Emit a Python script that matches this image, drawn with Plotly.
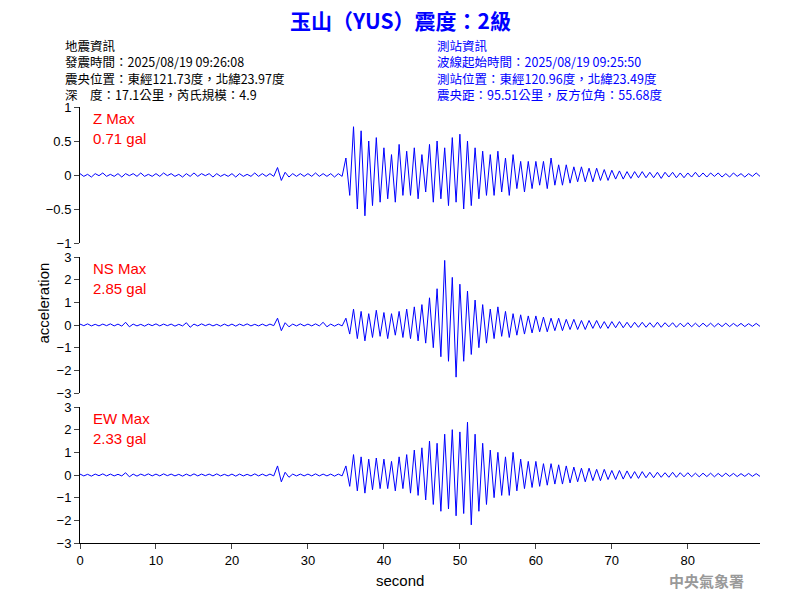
import plotly.graph_objects as go

# time axis: 0.5 s steps
t = [i * 0.5 for i in range(180)]

z_acc = [
    0.02, -0.02, 0.01, -0.03, 0.02, -0.01, 0.03, -0.02, 0.01, -0.02, 0.02, -0.03, 0.02, -0.01, 0.02, -0.02, 0.03, -0.02, 0.01, -0.02,
    0.02, -0.02, 0.03, -0.01, 0.02, -0.02, 0.01, -0.03, 0.02, -0.02, 0.03, -0.02, 0.02, -0.01, 0.02, -0.03, 0.02, -0.02, 0.01, -0.02,
    0.02, -0.03, 0.02, -0.02, 0.01, -0.02, 0.03, -0.02, 0.02, -0.02, 0.02, -0.02, 0.11, -0.08, 0.04, -0.03, 0.02, -0.02, 0.02, -0.02,
    0.02, -0.02, 0.03, -0.02, 0.02, -0.02, 0.02, -0.03, 0.02, -0.02, 0.25, -0.3, 0.71, -0.5, 0.65, -0.6, 0.5, -0.45, 0.55, -0.4,
    0.4, -0.35, 0.3, -0.4, 0.45, -0.3, 0.35, -0.3, 0.4, -0.35, 0.3, -0.25, 0.45, -0.4, 0.5, -0.35, 0.4, -0.45, 0.55, -0.4,
    0.6, -0.5, 0.5, -0.45, 0.4, -0.35, 0.35, -0.3, 0.3, -0.3, 0.35, -0.25, 0.25, -0.3, 0.3, -0.2, 0.2, -0.25, 0.2, -0.2,
    0.2, -0.15, 0.2, -0.2, 0.25, -0.15, 0.15, -0.15, 0.15, -0.12, 0.12, -0.1, 0.12, -0.1, 0.1, -0.1, 0.1, -0.08, 0.08, -0.08,
    0.07, -0.06, 0.06, -0.06, 0.05, -0.05, 0.05, -0.04, 0.05, -0.04, 0.04, -0.04, 0.04, -0.05, 0.04, -0.03, 0.04, -0.04, 0.03, -0.04,
    0.03, -0.03, 0.04, -0.03, 0.03, -0.03, 0.03, -0.02, 0.03, -0.03, 0.02, -0.03, 0.03, -0.02, 0.02, -0.03, 0.02, -0.02, 0.03, -0.02,
]

ns_acc = [
    0.04, -0.03, 0.05, -0.04, 0.03, -0.04, 0.04, -0.03, 0.05, -0.04, 0.04, -0.05, 0.12, -0.08, 0.04, -0.04, 0.03, -0.05, 0.04, -0.03,
    0.05, -0.04, 0.04, -0.03, 0.04, -0.05, 0.03, -0.04, 0.1, -0.1, 0.04, -0.04, 0.05, -0.03, 0.04, -0.04, 0.03, -0.05, 0.04, -0.04,
    0.04, -0.05, 0.04, -0.03, 0.05, -0.04, 0.03, -0.04, 0.04, -0.04, 0.04, -0.03, 0.3, -0.25, 0.1, -0.08, 0.04, -0.04, 0.05, -0.04,
    0.04, -0.04, 0.05, -0.04, 0.12, -0.08, 0.04, -0.05, 0.04, -0.04, 0.3, -0.4, 0.7, -0.6, 0.6, -0.7, 0.5, -0.55, 0.65, -0.5,
    0.55, -0.6, 0.5, -0.45, 0.6, -0.55, 0.7, -0.6, 0.8, -0.7, 0.9, -0.8, 1.2, -1.0, 1.6, -1.4, 2.85, -1.6, 2.1, -2.3,
    1.8, -1.6, 1.5, -1.3, 1.1, -1.0, 0.9, -0.8, 0.7, -0.6, 0.8, -0.5, 0.6, -0.55, 0.5, -0.45, 0.45, -0.4, 0.4, -0.35,
    0.4, -0.3, 0.35, -0.3, 0.3, -0.25, 0.3, -0.25, 0.25, -0.2, 0.25, -0.2, 0.2, -0.2, 0.2, -0.15, 0.2, -0.15, 0.15, -0.15,
    0.15, -0.12, 0.15, -0.12, 0.12, -0.12, 0.12, -0.1, 0.12, -0.1, 0.1, -0.1, 0.12, -0.1, 0.1, -0.08, 0.1, -0.1, 0.08, -0.08,
    0.1, -0.08, 0.08, -0.08, 0.08, -0.07, 0.08, -0.08, 0.07, -0.07, 0.08, -0.07, 0.07, -0.06, 0.07, -0.07, 0.06, -0.06, 0.07, -0.06,
]

ew_acc = [
    0.04, -0.04, 0.03, -0.05, 0.04, -0.03, 0.05, -0.04, 0.04, -0.04, 0.03, -0.04, 0.1, -0.08, 0.04, -0.05, 0.04, -0.03, 0.05, -0.04,
    0.04, -0.04, 0.05, -0.03, 0.04, -0.04, 0.03, -0.05, 0.04, -0.04, 0.05, -0.04, 0.04, -0.03, 0.04, -0.04, 0.05, -0.04, 0.03, -0.04,
    0.04, -0.05, 0.04, -0.04, 0.03, -0.04, 0.05, -0.04, 0.04, -0.04, 0.04, -0.04, 0.4, -0.3, 0.12, -0.1, 0.04, -0.04, 0.04, -0.04,
    0.04, -0.04, 0.05, -0.04, 0.04, -0.04, 0.04, -0.05, 0.04, -0.04, 0.4, -0.5, 0.9, -0.7, 0.8, -0.8, 0.7, -0.65, 0.75, -0.6,
    0.7, -0.6, 0.6, -0.7, 0.8, -0.6, 0.9, -0.8, 1.1, -0.9, 1.2, -1.1, 1.5, -1.3, 1.4, -1.6, 1.8, -1.5, 2.0, -1.8,
    1.9, -1.7, 2.33, -2.2, 1.8, -1.6, 1.4, -1.3, 1.1, -1.0, 1.0, -0.9, 0.8, -0.9, 1.0, -0.7, 0.7, -0.6, 0.6, -0.55,
    0.6, -0.5, 0.5, -0.45, 0.5, -0.4, 0.45, -0.4, 0.4, -0.35, 0.35, -0.3, 0.3, -0.3, 0.3, -0.25, 0.25, -0.25, 0.25, -0.2,
    0.2, -0.2, 0.2, -0.18, 0.18, -0.15, 0.15, -0.15, 0.15, -0.12, 0.12, -0.12, 0.12, -0.1, 0.1, -0.1, 0.12, -0.1, 0.1, -0.08,
    0.1, -0.08, 0.08, -0.08, 0.08, -0.07, 0.08, -0.08, 0.07, -0.07, 0.08, -0.06, 0.07, -0.07, 0.06, -0.06, 0.07, -0.06, 0.06, -0.06,
]

channels = [
    ("Z", z_acc, "0.71 gal", [-1, 1], [-1, -0.5, 0, 0.5, 1]),
    ("NS", ns_acc, "2.85 gal", [-3, 3], [-3, -2, -1, 0, 1, 2, 3]),
    ("EW", ew_acc, "2.33 gal", [-3, 3], [-3, -2, -1, 0, 1, 2, 3]),
]

# the page adds an 8px body margin, so place things in screen pixels minus that
OFF = 8


def px(x):
    return (x - OFF) / 800


def py(y):
    return 1 - (y - OFF) / 600


panel_px = [(107, 243), (257, 393), (407, 543)]

FONT = "Noto Sans CJK TC, Arial"
SANS = "Liberation Sans, Arial"
TICKFONT = {"size": 13, "color": "black", "family": SANS}
fig = go.Figure()
layout = {}
for i, (name, vals, peak, rng, ticks) in enumerate(channels):
    n = "" if i == 0 else str(i + 1)
    top, bot = panel_px[i]
    fig.add_trace(go.Scatter(x=t, y=vals, mode="lines", line={"color": "blue", "width": 1},
                             xaxis="x" + n, yaxis="y" + n, showlegend=False))
    layout["xaxis" + n] = dict(domain=[px(80), px(760)], range=[0, 89.5], anchor="y" + n,
                               showgrid=False, zeroline=False, visible=(i == 2), automargin=False,
                               showline=True, linecolor="black", ticks="outside", ticklen=5,
                               tickvals=[0, 10, 20, 30, 40, 50, 60, 70, 80], tickfont=TICKFONT)
    layout["yaxis" + n] = dict(domain=[py(bot), py(top)], range=rng, anchor="x" + n,
                               tickvals=ticks, showgrid=False, zeroline=False, showline=True,
                               automargin=False, linecolor="black", ticks="outside", ticklen=5,
                               tickfont=TICKFONT)
    fig.add_annotation(text=f"{name} Max<br>{peak}", x=px(91), y=py(top + 1),
                       xref="paper", yref="paper", xanchor="left", yanchor="top", align="left",
                       showarrow=False, font={"size": 15, "color": "red", "family": SANS})

fig.update_layout(**layout)

left_info = "地震資訊<br>發震時間：2025/08/19 09:26:08<br>震央位置：東經121.73度，北緯23.97度<br>深　度：17.1公里，芮氏規模：4.9"
right_info = "測站資訊<br>波線起始時間：2025/08/19 09:25:50<br>測站位置：東經120.96度，北緯23.49度<br>震央距：95.51公里，反方位角：55.68度"

fig.add_annotation(text="<b>玉山（YUS）震度：2級</b>", x=px(400), y=py(20), xref="paper", yref="paper",
                   yanchor="middle", showarrow=False, font={"size": 21, "color": "blue", "family": FONT})
fig.add_annotation(text=left_info, x=px(63), y=py(34), xref="paper", yref="paper",
                   xanchor="left", yanchor="top", align="left", showarrow=False,
                   font={"size": 12.5, "color": "black", "family": FONT})
fig.add_annotation(text=right_info, x=px(435), y=py(34), xref="paper", yref="paper",
                   xanchor="left", yanchor="top", align="left", showarrow=False,
                   font={"size": 12.5, "color": "blue", "family": FONT})
fig.add_annotation(text="acceleration", x=px(32), y=py(303), xref="paper", yref="paper",
                   textangle=-90, yanchor="middle", showarrow=False, font={"size": 15, "color": "black", "family": SANS})
fig.add_annotation(text="second", x=px(400), y=py(580), xref="paper", yref="paper",
                   yanchor="middle", showarrow=False, font={"size": 15, "color": "black", "family": SANS})
fig.add_annotation(text="<b>中央氣象署</b>", x=px(746), y=py(580), xref="paper", yref="paper",
                   xanchor="right", yanchor="middle", showarrow=False,
                   font={"size": 15, "color": "#999999", "family": "Noto Sans CJK TC"})

fig.update_layout(width=800, height=600, margin={"l": 0, "r": 0, "t": 0, "b": 0},
                  plot_bgcolor="white", paper_bgcolor="white")
fig.write_html("out.html")
